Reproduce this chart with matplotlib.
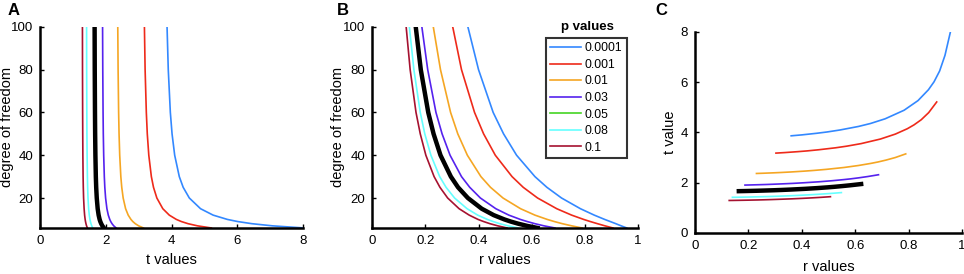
import matplotlib
matplotlib.use('Agg')
import matplotlib.pyplot as plt

plt.rcParams['font.family'] = ['Liberation Sans', 'DejaVu Sans']

# degrees of freedom
df = [6, 7, 8, 9, 10, 12, 15, 20, 25, 30, 40, 50, 60, 80, 100]

p_labels = ['0.0001', '0.001', '0.01', '0.03', '0.05', '0.08', '0.1']
colors = ['#3388ff', '#ee2a1a', '#f5a623', '#5522ee', '#44d422', '#66ffff', '#a51230']

# critical t values (one tailed)
t_p0001 = [8.025, 7.063, 6.442, 6.010, 5.694, 5.263, 4.880, 4.539, 4.352, 4.234, 4.094, 4.014, 3.962, 3.899, 3.862]
t_p001 = [5.208, 4.785, 4.501, 4.297, 4.144, 3.930, 3.733, 3.552, 3.450, 3.385, 3.307, 3.261, 3.232, 3.195, 3.174]
t_p01 = [3.143, 2.998, 2.896, 2.821, 2.764, 2.681, 2.602, 2.528, 2.485, 2.457, 2.423, 2.403, 2.390, 2.374, 2.364]
t_p03 = [2.313, 2.241, 2.189, 2.150, 2.120, 2.076, 2.034, 1.994, 1.970, 1.955, 1.936, 1.924, 1.917, 1.908, 1.902]
t_p05 = [1.943, 1.895, 1.860, 1.833, 1.812, 1.782, 1.753, 1.725, 1.708, 1.697, 1.684, 1.676, 1.671, 1.664, 1.660]
t_p08 = [1.603, 1.572, 1.549, 1.532, 1.518, 1.498, 1.478, 1.459, 1.448, 1.441, 1.432, 1.426, 1.423, 1.418, 1.416]
t_p1 = [1.440, 1.415, 1.397, 1.383, 1.372, 1.356, 1.341, 1.325, 1.316, 1.310, 1.303, 1.299, 1.296, 1.292, 1.290]

# matching r values
r_p0001 = [0.957, 0.936, 0.916, 0.895, 0.874, 0.835, 0.783, 0.712, 0.657, 0.612, 0.543, 0.494, 0.455, 0.400, 0.360]
r_p001 = [0.905, 0.875, 0.847, 0.820, 0.795, 0.750, 0.694, 0.622, 0.568, 0.526, 0.463, 0.419, 0.385, 0.336, 0.303]
r_p01 = [0.789, 0.750, 0.715, 0.685, 0.658, 0.612, 0.558, 0.492, 0.445, 0.409, 0.358, 0.322, 0.295, 0.257, 0.230]
r_p03 = [0.687, 0.646, 0.612, 0.583, 0.557, 0.514, 0.465, 0.407, 0.367, 0.336, 0.293, 0.263, 0.240, 0.209, 0.187]
r_p05 = [0.622, 0.582, 0.549, 0.521, 0.497, 0.457, 0.412, 0.360, 0.323, 0.296, 0.257, 0.231, 0.211, 0.183, 0.164]
r_p08 = [0.548, 0.511, 0.480, 0.455, 0.433, 0.397, 0.357, 0.310, 0.278, 0.254, 0.221, 0.198, 0.181, 0.157, 0.140]
r_p1 = [0.507, 0.472, 0.443, 0.419, 0.398, 0.365, 0.327, 0.284, 0.255, 0.233, 0.202, 0.181, 0.165, 0.143, 0.128]

t_all = [t_p0001, t_p001, t_p01, t_p03, t_p05, t_p08, t_p1]
r_all = [r_p0001, r_p001, r_p01, r_p03, r_p05, r_p08, r_p1]

fig = plt.figure(figsize=(9.64, 2.74), dpi=100)
axA = fig.add_axes([0.0415, 0.168, 0.273, 0.734])
axB = fig.add_axes([0.386, 0.168, 0.276, 0.734])
axC = fig.add_axes([0.721, 0.150, 0.277, 0.734])


def style(ax):
    for s in ['top', 'right']:
        ax.spines[s].set_visible(False)
    for s in ['left', 'bottom']:
        ax.spines[s].set_linewidth(1.8)
    ax.tick_params(direction='in', length=3, width=1, labelsize=9.5, pad=5)


# A
for t, c in zip(t_all, colors):
    axA.plot(t, df, color=c, lw=1.2)
axA.plot(t_p05, df, color='black', lw=3.2)
axA.set_xlim(0, 8)
axA.set_ylim(6, 100)
axA.set_xticks([0, 2, 4, 6, 8])
axA.set_yticks([20, 40, 60, 80, 100])
axA.set_xlabel('t values', fontsize=10.5)
axA.set_ylabel('degree of freedom', fontsize=10.5)
axA.yaxis.set_label_coords(-0.099, 0.5)
axA.xaxis.set_label_coords(0.5, -0.125)
style(axA)

# B
lines = []
for r, c, lab in zip(r_all, colors, p_labels):
    ln, = axB.plot(r, df, color=c, lw=1.2, label=lab)
    lines.append(ln)
axB.plot(r_p05, df, color='black', lw=3.2)
axB.set_xlim(0, 1)
axB.set_ylim(6, 100)
axB.set_xticks([0, 0.2, 0.4, 0.6, 0.8, 1])
axB.set_xticklabels(['0', '0.2', '0.4', '0.6', '0.8', '1'])
axB.set_yticks([20, 40, 60, 80, 100])
axB.set_xlabel('r values', fontsize=10.5)
axB.set_ylabel('degree of freedom', fontsize=10.5)
axB.yaxis.set_label_coords(-0.10, 0.5)
axB.xaxis.set_label_coords(0.5, -0.125)
style(axB)
leg = axB.legend(handles=lines, loc='upper right', bbox_to_anchor=(0.957, 0.945),
                 fontsize=8.7, frameon=True, fancybox=False, edgecolor='black',
                 handlelength=2.6, handletextpad=0.3, labelspacing=0.38,
                 borderpad=0.35, borderaxespad=0.0)
leg.get_frame().set_linewidth(1.5)
axB.text(0.81, 1.0, 'p values', transform=axB.transAxes, ha='center', va='center',
         fontsize=9.5, fontweight='bold')

# C
for t, r, c in zip(t_all, r_all, colors):
    axC.plot(r, t, color=c, lw=1.2)
axC.plot(r_p05, t_p05, color='black', lw=3.2)
axC.set_xlim(0, 1)
axC.set_ylim(0, 8)
axC.set_xticks([0, 0.2, 0.4, 0.6, 0.8, 1])
axC.set_xticklabels(['0', '0.2', '0.4', '0.6', '0.8', '1'])
axC.set_yticks([0, 2, 4, 6, 8])
axC.set_xlabel('r values', fontsize=10.5)
axC.set_ylabel('t value', fontsize=10.5)
axC.yaxis.set_label_coords(-0.067, 0.5)
axC.xaxis.set_label_coords(0.5, -0.135)
style(axC)

fig.text(0.008, 0.96, 'A', fontsize=12, fontweight='bold', va='center')
fig.text(0.349, 0.96, 'B', fontsize=12, fontweight='bold', va='center')
fig.text(0.680, 0.96, 'C', fontsize=12, fontweight='bold', va='center')

fig.savefig('out.png', dpi=100)
